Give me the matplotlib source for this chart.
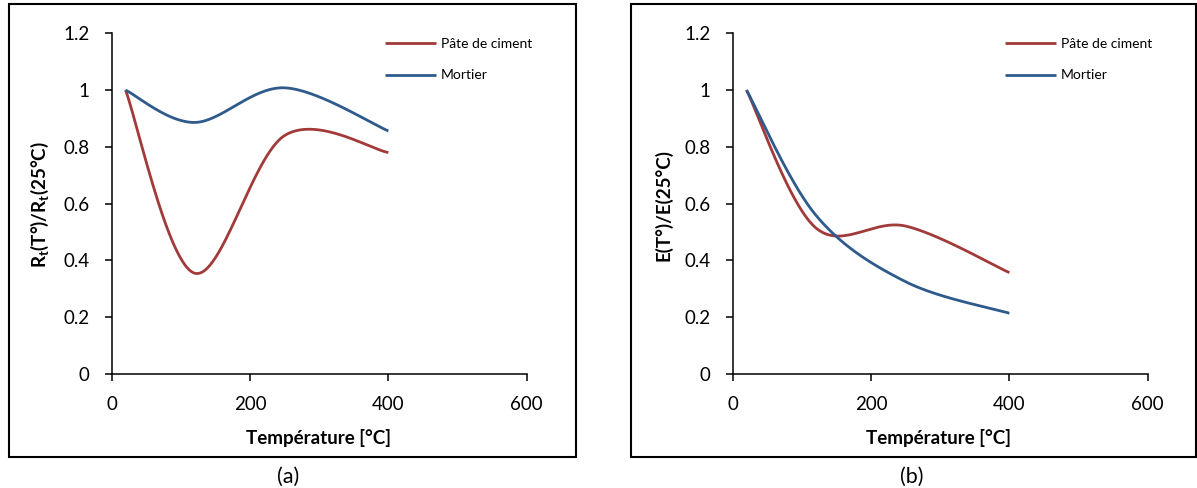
import numpy as np
import matplotlib
matplotlib.use('Agg')
import matplotlib.pyplot as plt
from matplotlib.patches import Rectangle

plt.rcParams['font.family'] = ['Lato', 'DejaVu Sans']
plt.rcParams['mathtext.fontset'] = 'custom'
plt.rcParams['mathtext.rm'] = 'Lato:bold'
plt.rcParams['mathtext.it'] = 'Lato:bold'
plt.rcParams['mathtext.bf'] = 'Lato:bold'

# Températures et rapports normalisés
temperature = [20, 120, 250, 400]

rt_pate = [1.0, 0.355, 0.84, 0.78]
rt_mortier = [1.0, 0.886, 1.008, 0.856]

e_pate = [1.0, 0.515, 0.521, 0.357]
e_mortier = [1.0, 0.56, 0.325, 0.214]

series_names = ['Pâte de ciment', 'Mortier']
ylabels = ['R$_\\mathrm{t}$(T°)/R$_\\mathrm{t}$(25°C)', 'E(T°)/E(25°C)']
panel_tags = ['(a)', '(b)']

ROUGE = '#A23A3A'
BLEU = '#2F5A8C'

W, H = 1197, 488
XPX = 415.0 / 600   # px par °C
YPX = 340.7 / 1.2   # px par unité


def excel_smooth(x, y, n=60):
    # courbe lissée type Excel (Bezier, tension 1/6) calculée en espace pixel
    p = np.column_stack([np.asarray(x, float) * XPX, np.asarray(y, float) * YPX])
    pts = np.vstack([p[0], p, p[-1]])
    out = []
    for i in range(1, len(pts) - 2):
        p0, p1, p2, p3 = pts[i - 1], pts[i], pts[i + 1], pts[i + 2]
        c1 = p1 + (p2 - p0) / 6.0
        c2 = p2 - (p3 - p1) / 6.0
        t = np.linspace(0, 1, n)[:, None]
        seg = ((1 - t) ** 3) * p1 + 3 * ((1 - t) ** 2) * t * c1 \
            + 3 * (1 - t) * t ** 2 * c2 + t ** 3 * p2
        out.append(seg)
    out = np.vstack(out)
    return out[:, 0] / XPX, out[:, 1] / YPX


fig = plt.figure(figsize=(W / 100, H / 100), dpi=100)

panels = [
    (111.7, rt_pate, rt_mortier, 385, 51, 318, 288),
    (732.7, e_pate, e_mortier, 1005, 672, 939, 912),
]

for k, (left, pate, mortier, leg_x, ylab_x, xlab_x, tag_x) in enumerate(panels):
    ax = fig.add_axes([left / W, 1 - 374 / H, 415 / W, 340.7 / H])
    for vals, col, name in [(pate, ROUGE, series_names[0]),
                            (mortier, BLEU, series_names[1])]:
        xs, ys = excel_smooth(temperature, vals)
        ax.plot(xs, ys, color=col, lw=2.0, label=name, solid_capstyle='butt')

    ax.set_xlim(0, 600)
    ax.set_ylim(0, 1.2)
    ax.set_xticks([0, 200, 400, 600])
    ax.set_yticks([0, 0.2, 0.4, 0.6, 0.8, 1.0, 1.2])
    ax.set_yticklabels(['0', '0.2', '0.4', '0.6', '0.8', '1', '1.2'])
    for s in ['top', 'right']:
        ax.spines[s].set_visible(False)
    for s in ['left', 'bottom']:
        ax.spines[s].set_linewidth(1.1)
    ax.tick_params(direction='out', length=5, width=1.1, labelsize=13.5,
                   pad=11)

    ax.set_xlabel('Température [°C]', fontsize=13.5, fontweight='bold')
    ax.xaxis.set_label_coords((xlab_x - left) / 415, -(429 - 374) / 340.7)
    ax.set_ylabel(ylabels[k], fontsize=13.5, fontweight='bold')
    ax.yaxis.set_label_coords((ylab_x - left) / 415, (374 - 205) / 340.7)

    ax.legend(loc='upper left', bbox_to_anchor=(leg_x / W, 1 - 38 / H),
              bbox_transform=fig.transFigure, frameon=False, fontsize=10,
              handlelength=3.7, handletextpad=0.3, labelspacing=1.4,
              borderpad=0, borderaxespad=0)

    fig.text(tag_x / W, 1 - 477 / H, panel_tags[k], ha='center', va='center',
             fontsize=15.5)

# cadres autour des deux figures
for x0, x1 in [(9, 576), (631, 1195.5)]:
    fig.add_artist(Rectangle((x0 / W, 1 - 456.7 / H), (x1 - x0) / W,
                             (456.7 - 3.7) / H, transform=fig.transFigure,
                             fill=False, lw=1.5, ec='black'))

fig.savefig('out.png', dpi=100)
